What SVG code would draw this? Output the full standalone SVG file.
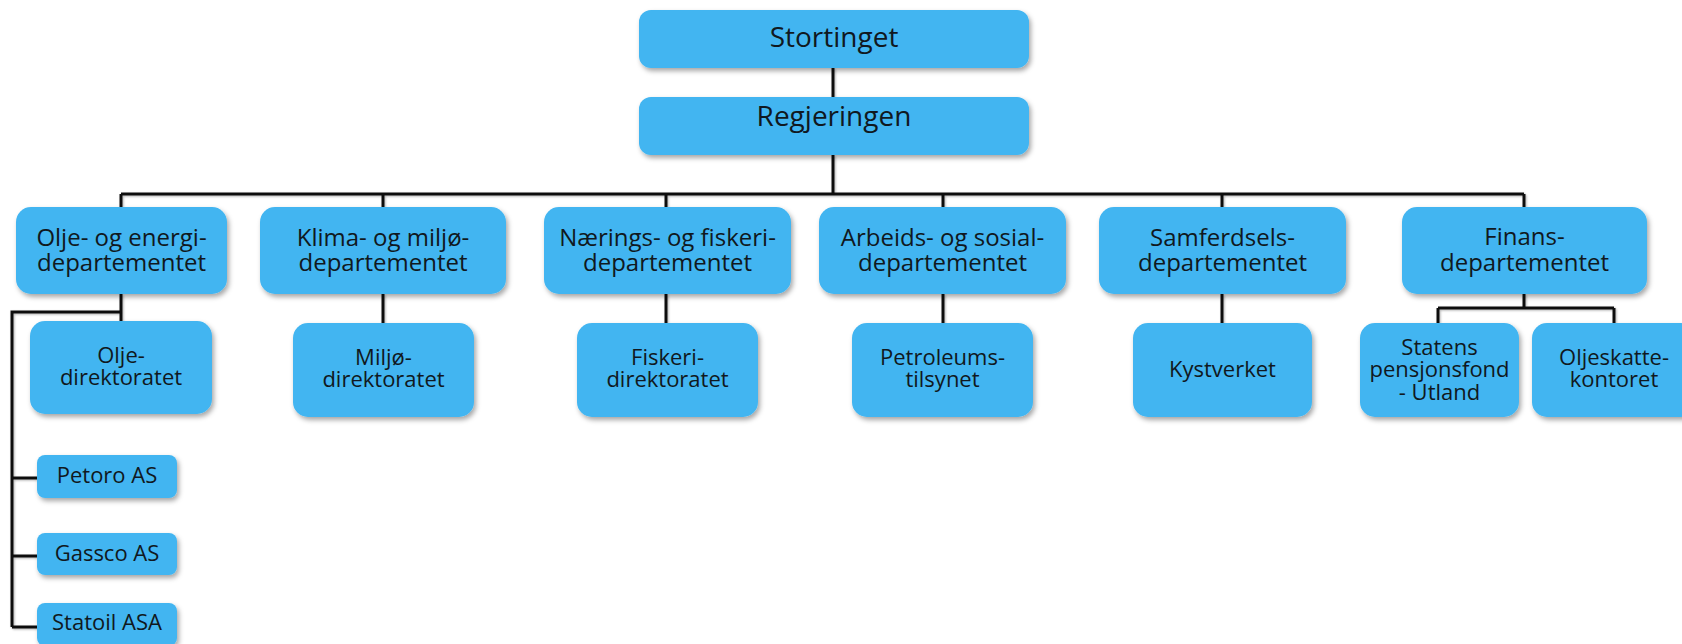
<svg xmlns="http://www.w3.org/2000/svg" width="1682" height="644" viewBox="0 0 1682 644">
<defs>
<filter id="sh" x="-10%" y="-10%" width="125%" height="135%">
<feDropShadow dx="2" dy="3" stdDeviation="2.5" flood-color="#000" flood-opacity="0.35"/>
</filter>
<filter id="lsh" x="-5%" y="-5%" width="110%" height="110%">
<feDropShadow dx="1" dy="1" stdDeviation="0.8" flood-color="#000" flood-opacity="0.3"/>
</filter>
</defs>
<style>
.box{fill:#42B5F1;filter:url(#sh)}
.t{font-family:"Open Sans","Noto Sans",sans-serif;fill:#101820;text-anchor:middle}
.tt{font-size:28px}
.td{font-size:24px}
.ts{font-size:22px}
.c{stroke:#111;stroke-width:3;fill:none;filter:url(#lsh)}
</style>
<rect width="1682" height="644" fill="#fff"/>
<g id="connectors">
<path class="c" d="M833 68V97M833 155V194M121 194H1524M121 194V207M383 194V207M666 194V207M943 194V207M1222 194V207M1524 194V207"/>
<path class="c" d="M383 294V323M666 294V323M943 294V323M1222 294V323"/>
<path class="c" d="M121 294V321M121 312H12V627M12 478H37M12 556H37M12 627H37"/>
<path class="c" d="M1524 294V308M1438 308H1614M1438 308V323M1614 308V323"/>
</g>
<g id="stortinget"><rect class="box" x="639" y="10" width="390" height="58" rx="12"/><text class="t tt" x="834" y="47">Stortinget</text></g>
<g id="regjeringen"><rect class="box" x="639" y="97" width="390" height="58" rx="12"/><text class="t tt" x="834" y="126">Regjeringen</text></g>
<g id="oed"><rect class="box" x="16" y="207" width="211" height="87" rx="15"/><text class="t td" x="121.5" y="246">Olje- og energi-</text><text class="t td" x="121.5" y="271">departementet</text></g>
<g id="kld"><rect class="box" x="260" y="207" width="246" height="87" rx="15"/><text class="t td" x="383" y="246">Klima- og miljø-</text><text class="t td" x="383" y="271">departementet</text></g>
<g id="nfd"><rect class="box" x="544" y="207" width="247" height="87" rx="15"/><text class="t td" x="667.5" y="246">Nærings- og fiskeri-</text><text class="t td" x="667.5" y="271">departementet</text></g>
<g id="asd"><rect class="box" x="819" y="207" width="247" height="87" rx="15"/><text class="t td" x="942.5" y="246">Arbeids- og sosial-</text><text class="t td" x="942.5" y="271">departementet</text></g>
<g id="sd"><rect class="box" x="1099" y="207" width="247" height="87" rx="15"/><text class="t td" x="1222.5" y="246">Samferdsels-</text><text class="t td" x="1222.5" y="271">departementet</text></g>
<g id="fin"><rect class="box" x="1402" y="207" width="245" height="87" rx="15"/><text class="t td" x="1524.5" y="245">Finans-</text><text class="t td" x="1524.5" y="271">departementet</text></g>
<g id="od"><rect class="box" x="30" y="321" width="182" height="93" rx="15"/><text class="t ts" x="121" y="363">Olje-</text><text class="t ts" x="121" y="385">direktoratet</text></g>
<g id="md"><rect class="box" x="293" y="323" width="181" height="94" rx="15"/><text class="t ts" x="383.5" y="365">Miljø-</text><text class="t ts" x="383.5" y="387">direktoratet</text></g>
<g id="fd"><rect class="box" x="577" y="323" width="181" height="94" rx="15"/><text class="t ts" x="667.5" y="365">Fiskeri-</text><text class="t ts" x="667.5" y="387">direktoratet</text></g>
<g id="ptil"><rect class="box" x="852" y="323" width="181" height="94" rx="15"/><text class="t ts" x="942.5" y="365">Petroleums-</text><text class="t ts" x="942.5" y="387">tilsynet</text></g>
<g id="kyst"><rect class="box" x="1133" y="323" width="179" height="94" rx="15"/><text class="t ts" x="1222.5" y="377">Kystverket</text></g>
<g id="spu"><rect class="box" x="1360" y="323" width="159" height="94" rx="15"/><text class="t ts" x="1439.5" y="355">Statens</text><text class="t ts" x="1439.5" y="377">pensjonsfond</text><text class="t ts" x="1439.5" y="400">- Utland</text></g>
<g id="osk"><rect class="box" x="1532" y="323" width="164" height="94" rx="15"/><text class="t ts" x="1614" y="365">Oljeskatte-</text><text class="t ts" x="1614" y="387">kontoret</text></g>
<g id="petoro"><rect class="box" x="37" y="455" width="140" height="43" rx="8"/><text class="t ts" x="107" y="483">Petoro AS</text></g>
<g id="gassco"><rect class="box" x="37" y="533" width="140" height="42" rx="8"/><text class="t ts" x="107" y="561">Gassco AS</text></g>
<g id="statoil"><rect class="box" x="37" y="603" width="140" height="43" rx="8"/><text class="t ts" x="107" y="630">Statoil ASA</text></g>
</svg>
